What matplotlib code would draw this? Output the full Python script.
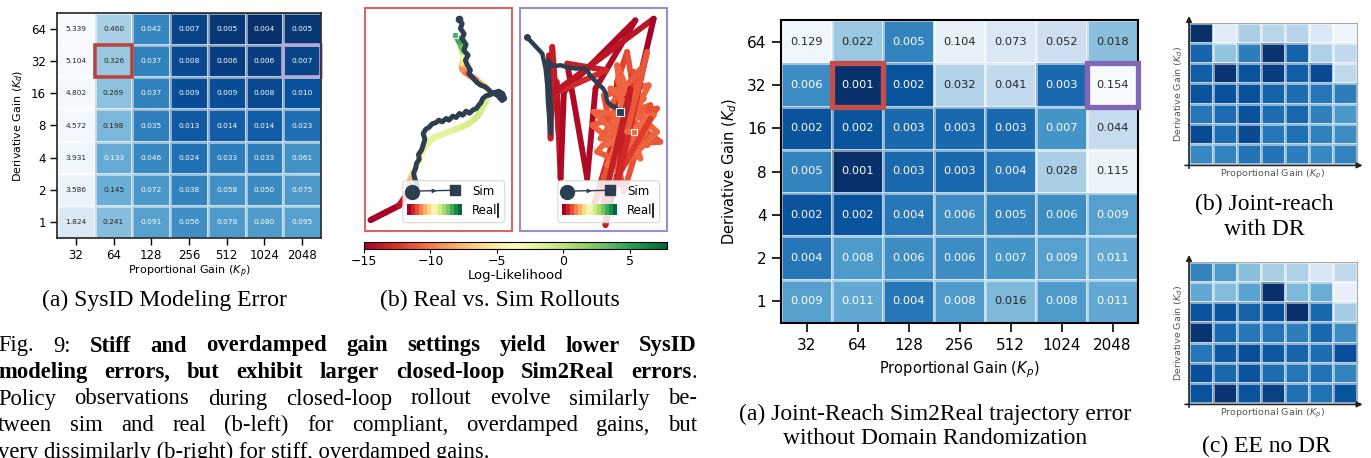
import numpy as np
import matplotlib
matplotlib.use('Agg')
import matplotlib.pyplot as plt
from matplotlib.colors import LogNorm, Normalize
from matplotlib.collections import LineCollection
from matplotlib.patches import Rectangle, FancyBboxPatch

# ---------------- data ----------------
kp_labels = ['32', '64', '128', '256', '512', '1024', '2048']
kd_labels = ['64', '32', '16', '8', '4', '2', '1']

# (a) SysID modeling error, rows Kd=64..1, cols Kp=32..2048
sysid_err = [
    [5.339, 0.460, 0.042, 0.007, 0.005, 0.004, 0.005],
    [5.104, 0.326, 0.037, 0.008, 0.006, 0.006, 0.007],
    [4.802, 0.269, 0.037, 0.009, 0.009, 0.008, 0.010],
    [4.572, 0.198, 0.035, 0.013, 0.014, 0.014, 0.023],
    [3.931, 0.133, 0.046, 0.024, 0.033, 0.033, 0.061],
    [3.586, 0.145, 0.072, 0.038, 0.058, 0.050, 0.075],
    [1.824, 0.241, 0.091, 0.056, 0.078, 0.080, 0.095],
]

# Joint-reach sim2real error without DR
joint_nodr = [
    [0.129, 0.022, 0.005, 0.104, 0.073, 0.052, 0.018],
    [0.006, 0.001, 0.002, 0.032, 0.041, 0.003, 0.154],
    [0.002, 0.002, 0.003, 0.003, 0.003, 0.007, 0.044],
    [0.005, 0.001, 0.003, 0.003, 0.004, 0.028, 0.115],
    [0.002, 0.002, 0.004, 0.006, 0.005, 0.006, 0.009],
    [0.004, 0.008, 0.006, 0.006, 0.007, 0.009, 0.011],
    [0.009, 0.011, 0.004, 0.008, 0.016, 0.008, 0.011],
]

# Joint-reach with DR (no numbers printed, estimated from shading)
joint_dr = [
    [0.0010, 0.085, 0.028, 0.035, 0.034, 0.075, 0.120],
    [0.0028, 0.020, 0.0045, 0.0011, 0.0027, 0.030, 0.040],
    [0.0025, 0.0011, 0.0020, 0.0013, 0.0025, 0.0017, 0.040],
    [0.0020, 0.0019, 0.0019, 0.0027, 0.0033, 0.0040, 0.0045],
    [0.0040, 0.0032, 0.0019, 0.0033, 0.0029, 0.0047, 0.0075],
    [0.0017, 0.0032, 0.0017, 0.0040, 0.0035, 0.0048, 0.0060],
    [0.0055, 0.0050, 0.0037, 0.0037, 0.0045, 0.0055, 0.0050],
]

# EE no DR (estimated from shading)
ee_nodr = [
    [0.0050, 0.0080, 0.018, 0.027, 0.030, 0.070, 0.040],
    [0.011, 0.017, 0.0095, 0.0010, 0.016, 0.012, 0.100],
    [0.0020, 0.0020, 0.0027, 0.0018, 0.0010, 0.0030, 0.026],
    [0.0011, 0.0030, 0.0040, 0.0038, 0.0045, 0.0030, 0.0060],
    [0.0040, 0.0022, 0.0018, 0.0022, 0.0028, 0.0033, 0.0018],
    [0.0018, 0.0030, 0.0020, 0.0032, 0.0040, 0.0037, 0.0050],
    [0.0020, 0.0011, 0.0020, 0.0014, 0.0035, 0.0036, 0.0020],
]

# (b) rollouts, traced in image units
sim_left_x = [160, 166, 158, 154, 160, 163, 171, 169, 178, 183, 188, 183, 191, 201, 210, 222, 230, 240,
              252, 260, 272, 282, 292, 302, 312, 322, 333, 343, 350, 357, 362, 372, 386, 398, 410, 422,
              428, 420, 408, 398, 388, 378, 368, 356, 345, 336, 330, 320, 325, 316, 310, 318, 305, 312,
              300, 306, 295, 300, 290]
sim_left_y = [555, 540, 522, 505, 490, 475, 462, 448, 435, 420, 402, 385, 372, 366, 356, 352, 345, 350,
              340, 345, 333, 337, 325, 330, 318, 324, 314, 310, 300, 292, 280, 272, 268, 262, 258, 265,
              280, 286, 272, 266, 262, 252, 244, 240, 232, 222, 215, 205, 195, 180, 165, 150, 135, 118,
              100, 85, 70, 55, 40]
real_left_x = [25, 70, 110, 140, 145, 150, 160, 168, 175, 180, 190, 205, 220, 240, 260, 280, 300, 320,
               340, 355, 365, 375, 380, 372, 355, 340, 325, 310, 300, 300, 305, 302, 298, 292, 286, 280]
real_left_y = [645, 622, 602, 560, 525, 505, 490, 475, 455, 440, 425, 405, 395, 388, 380, 372, 365, 355,
               340, 320, 300, 280, 262, 245, 235, 222, 212, 202, 190, 175, 160, 140, 125, 110, 98, 90]
real_left_ll = [-15, -15, -15, -13, -9, -6, -4, -3, -3, -2.5, -2, -2, -2, -2, -2, -2, -1.5, -1.5,
                -1, -1, -1, -1.5, -2, -5, -8, -9, -10, -10, -10, -8, -4, -1, 2, 4, 5, 4]

sim_right_x = [28, 50, 75, 85, 90, 92, 96, 100, 102, 98, 95, 94, 100, 115, 130, 150, 175, 200, 210,
               218, 232, 245, 258, 265, 268, 272, 285, 298, 305, 310]
sim_right_y = [95, 118, 145, 190, 240, 290, 340, 385, 330, 260, 200, 165, 178, 182, 180, 186, 190, 190,
               195, 210, 225, 238, 250, 262, 280, 292, 302, 308, 315, 320]
real_right_x = [95, 100, 105, 125, 118, 130, 140, 355, 235, 210, 150, 268, 100, 410, 265, 300, 330, 360,
                230, 350, 390, 240, 420, 260, 380, 280, 430, 300, 225, 400, 320, 260, 395, 270, 350,
                300, 330, 390, 250, 360, 290, 410, 310, 240, 380, 280, 420, 300, 340, 230, 370, 320,
                270, 400, 260, 340, 300, 390, 330, 350]
real_right_y = [150, 400, 125, 390, 230, 520, 260, 45, 250, 520, 175, 195, 270, 40, 660, 230, 140, 320,
                600, 200, 420, 330, 310, 520, 180, 300, 410, 420, 360, 300, 560, 270, 240, 480, 300,
                180, 450, 370, 400, 250, 350, 330, 470, 440, 280, 250, 380, 500, 330, 320, 460, 300,
                420, 340, 590, 250, 540, 140, 380, 382]
real_right_ll = [-14, -14, -13, -14, -13, -15, -14, -15, -14, -15, -14, -13, -13, -15, -15, -12, -12, -11,
                 -14, -12, -11, -11, -11, -12, -11, -11, -12, -10.5, -11, -11, -12, -11, -11, -10.5, -10.5,
                 -11, -10.5, -10.5, -11, -11, -10.5, -10.5, -11, -11, -10.5, -11, -10.5, -11, -10.5, -11,
                 -10.5, -11, -10.5, -10.5, -14, -13, -14, -12, -10.5, -10.5]

ll_ticks = [-15, -10, -5, 0, 5]

caption_lines = [
    [('Fig.', 'normal'), ('9:', 'normal'), ('Stiff', 'bold'), ('and', 'bold'), ('overdamped', 'bold'),
     ('gain', 'bold'), ('settings', 'bold'), ('yield', 'bold'), ('lower', 'bold'), ('SysID', 'bold')],
    [('modeling', 'bold'), ('errors,', 'bold'), ('but', 'bold'), ('exhibit', 'bold'), ('larger', 'bold'),
     ('closed-loop', 'bold'), ('Sim2Real', 'bold'), ('errors', 'bold', '.')],
    [('Policy', 'normal'), ('observations', 'normal'), ('during', 'normal'), ('closed-loop', 'normal'),
     ('rollout', 'normal'), ('evolve', 'normal'), ('similarly', 'normal'), ('be-', 'normal')],
    [('tween', 'normal'), ('sim', 'normal'), ('and', 'normal'), ('real', 'normal'), ('(b-left)', 'normal'),
     ('for', 'normal'), ('compliant,', 'normal'), ('overdamped', 'normal'), ('gains,', 'normal'), ('but', 'normal')],
]
caption_last = 'very dissimilarly (b-right) for stiff, overdamped gains.'

# ---------------- figure ----------------
W, H = 1371, 458
fig = plt.figure(figsize=(W / 100, H / 100), dpi=100)
SERIF = 'Liberation Serif'
SUB_FS = 17
CAP_FS = 16.3


def px_axes(x0, y0, x1, y1):
    return fig.add_axes([x0 / W, 1 - y1 / H, (x1 - x0) / W, (y1 - y0) / H])


def fig_text(x, y, s, **kw):
    return fig.text(x / W, 1 - y / H, s, **kw)


def heatmap(ax, vals, norm, annot_fs=None, thresh=None, lw=1.0):
    vals = np.array(vals)
    ax.pcolormesh(np.arange(8), np.arange(8), vals, cmap='Blues_r', norm=norm,
                  edgecolors=(1, 1, 1, 0.5), linewidth=lw)
    ax.set_xlim(0, 7)
    ax.set_ylim(7, 0)
    if annot_fs:
        for i in range(7):
            for j in range(7):
                v = vals[i, j]
                ax.text(j + 0.5, i + 0.5, f'{v:.3f}', ha='center', va='center',
                        fontsize=annot_fs, color='#262626' if v >= thresh else 'white')


def gain_ticks(ax, fs, lab_fs, xpad, ypad):
    ax.set_xticks(np.arange(7) + 0.5)
    ax.set_xticklabels(kp_labels, fontsize=fs)
    ax.set_yticks(np.arange(7) + 0.5)
    ax.set_yticklabels(kd_labels, fontsize=fs)
    ax.set_xlabel('Proportional Gain ($K_p$)', fontsize=lab_fs, labelpad=xpad)
    ax.set_ylabel('Derivative Gain ($K_d$)', fontsize=lab_fs, labelpad=ypad)


# (a) SysID heatmap
ax1 = px_axes(57, 13, 321, 238)
heatmap(ax1, sysid_err, LogNorm(0.004, 5.339), annot_fs=5.3, thresh=0.14, lw=0.8)
gain_ticks(ax1, 8.5, 8, 1, 4)
ax1.tick_params(length=5, width=1, pad=3)
for sp in ax1.spines.values():
    sp.set_linewidth(1.2)
    sp.set_color('#222222')
ax1.add_patch(Rectangle((1, 1), 1, 1, fill=False, ec='#b8443f', lw=2.6, clip_on=False))
ax1.add_patch(Rectangle((6, 1), 1, 1, fill=False, ec='#b4aad4', lw=2.6, clip_on=False))

# (b) rollouts
cmap_ll = plt.get_cmap('RdYlGn')
norm_ll = Normalize(-15, 7.8)


def colored_path(ax, xs, ys, ll, lw):
    pts = np.column_stack([xs, ys])
    segs = np.stack([pts[:-1], pts[1:]], axis=1)
    vals = (np.array(ll[:-1]) + np.array(ll[1:])) / 2
    lc = LineCollection(segs, cmap=cmap_ll, norm=norm_ll, linewidths=lw, capstyle='round', joinstyle='round')
    lc.set_array(vals)
    ax.add_collection(lc)


def rollout_legend(ax):
    ax.add_patch(FancyBboxPatch((122, 527), 306, 126, boxstyle='round,pad=0,rounding_size=10',
                                fc='white', ec='#d0d0d0', lw=0.8, alpha=0.85, zorder=5))
    ax.plot([160, 262], [558, 556], color='#2c3e50', lw=1, zorder=6)
    ax.annotate('', xy=(232, 557), xytext=(210, 557.5),
                arrowprops=dict(arrowstyle='-|>', color='#2c3e50', lw=0.8, mutation_scale=6), zorder=6)
    ax.plot([150], [560], 'o', color='#2c3e50', ms=10, zorder=7)
    ax.plot([278], [556], 's', color='#2c3e50', ms=7.5, zorder=7)
    ax.text(330, 558, 'Sim', fontsize=8.5, va='center', ha='left', zorder=7)
    ax.imshow(np.linspace(-15, 7.8, 14)[None, :], cmap=cmap_ll, norm=norm_ll, aspect='auto',
              extent=(135, 298, 630, 598), zorder=7, interpolation='nearest')
    ax.text(330, 615, 'Real', fontsize=8.5, va='center', ha='left', zorder=7)
    ax.plot([408, 408], [598, 636], color='black', lw=1.2, zorder=7)


axL = px_axes(365, 8, 512, 231)
axR = px_axes(520, 8, 667, 231)
for ax, ec in [(axL, '#d06a6a'), (axR, '#9a8cc6')]:
    ax.set_xlim(8, 450)
    ax.set_ylim(678, 8)
    ax.set_xticks([])
    ax.set_yticks([])
    for sp in ax.spines.values():
        sp.set_color(ec)
        sp.set_linewidth(1.5)

colored_path(axL, real_left_x, real_left_y, real_left_ll, 4.5)
axL.plot(sim_left_x, sim_left_y, color='#2c3e50', lw=3.6, solid_capstyle='round', solid_joinstyle='round')
axL.plot(sim_left_x[-1:], sim_left_y[-1:], 'o', color='#2c3e50', ms=4.5)
axL.plot(real_left_x[-1:], real_left_y[-1:], 's', color=cmap_ll(norm_ll(real_left_ll[-1])), mec='white', ms=5, mew=0.8)
rollout_legend(axL)

colored_path(axR, real_right_x, real_right_y, real_right_ll, 4.2)
axR.plot(sim_right_x, sim_right_y, color='#2c3e50', lw=3.2, solid_capstyle='round', solid_joinstyle='round')
axR.plot(sim_right_x[:1], sim_right_y[:1], 'o', color='#2c3e50', ms=4)
axR.plot(sim_right_x[-1:], sim_right_y[-1:], 's', color='#2c3e50', mec='white', ms=6, mew=0.8)
axR.plot(real_right_x[-1:], real_right_y[-1:], 's', color=cmap_ll(norm_ll(real_right_ll[-1])), mec='white', ms=5, mew=0.8)
rollout_legend(axR)

cax = px_axes(364, 242, 667, 249)
cb = fig.colorbar(plt.cm.ScalarMappable(norm=norm_ll, cmap=cmap_ll), cax=cax, orientation='horizontal')
cb.set_ticks(ll_ticks)
cb.ax.tick_params(labelsize=9, length=3, pad=1)
cb.set_label('Log-Likelihood', fontsize=9.5, labelpad=1)

# Joint-reach without DR (big heatmap)
ax3 = px_axes(781, 20, 1138, 323)
heatmap(ax3, joint_nodr, LogNorm(0.001, 0.154), annot_fs=8.2, thresh=0.015, lw=1.0)
gain_ticks(ax3, 11, 10.5, 5, 6)
ax3.tick_params(length=6.5, width=1.2, pad=4)
for sp in ax3.spines.values():
    sp.set_linewidth(1.5)
ax3.add_patch(Rectangle((1, 1), 1, 1, fill=False, ec='#c24f4b', lw=3.8, clip_on=False, zorder=5))
ax3.add_patch(Rectangle((6, 1), 1, 1, fill=False, ec='#8466b6', lw=3.8, clip_on=False, zorder=5))

# small heatmaps
for vals, (y0, y1) in [(joint_dr, (23, 164)), (ee_nodr, (262, 403))]:
    ax = px_axes(1189, y0, 1357, y1)
    heatmap(ax, vals, LogNorm(0.001, 0.154), lw=0.8)
    ax.set_xticks([])
    ax.set_yticks([])
    for sp in ax.spines.values():
        sp.set_color('#aaaaaa')
        sp.set_linewidth(0.8)
    ax.spines['left'].set_visible(False)
    ax.spines['bottom'].set_visible(False)
    ax.annotate('', xy=(1.05, -0.01), xytext=(-0.04, -0.01), xycoords='axes fraction',
                arrowprops=dict(arrowstyle='-|>', color='#222222', lw=1.2, mutation_scale=8))
    ax.annotate('', xy=(0, 1.07), xytext=(0, -0.05), xycoords='axes fraction',
                arrowprops=dict(arrowstyle='-|>', color='#222222', lw=1.2, mutation_scale=8))
    ax.set_xlabel('Proportional Gain ($K_p$)', fontsize=6.8, color='#555555', labelpad=3)
    ax.set_ylabel('Derivative Gain ($K_d$)', fontsize=6.8, color='#555555', labelpad=3)

# sub-captions
cap_kw = dict(family=SERIF, fontsize=SUB_FS, ha='center', va='center')
fig_text(164, 300, '(a) SysID Modeling Error', **cap_kw)
fig_text(500, 300, '(b) Real vs. Sim Rollouts', **cap_kw)
fig_text(935, 414, '(a) Joint-Reach Sim2Real trajectory error', **cap_kw)
fig_text(935, 439, 'without Domain Randomization', **cap_kw)
fig_text(1264, 204, '(b) Joint-reach', **cap_kw)
fig_text(1264, 230, 'with DR', **cap_kw)
fig_text(1266, 446, '(c) EE no DR', **cap_kw)

# figure caption, justified
renderer = fig.canvas.get_renderer()
line_y = [346, 372.5, 399, 425.5, 452]
x_left, x_right = -2, 697
for tokens, y in zip(caption_lines, line_y):
    groups = []
    for tok in tokens:
        pieces = [fig_text(0, y, tok[0], family=SERIF, fontsize=CAP_FS, weight=tok[1], va='center')]
        if len(tok) > 2:
            pieces.append(fig_text(0, y, tok[2], family=SERIF, fontsize=CAP_FS, va='center'))
        groups.append(pieces)
    widths = [[p.get_window_extent(renderer).width for p in g] for g in groups]
    gap = (x_right - x_left - sum(sum(w) for w in widths)) / (len(groups) - 1)
    x = x_left
    for g, ws in zip(groups, widths):
        for p, w in zip(g, ws):
            p.set_x(x / W)
            x += w
        x += gap
fig_text(x_left, line_y[-1], caption_last, family=SERIF, fontsize=CAP_FS, va='center')

fig.savefig('out.png', dpi=100)
